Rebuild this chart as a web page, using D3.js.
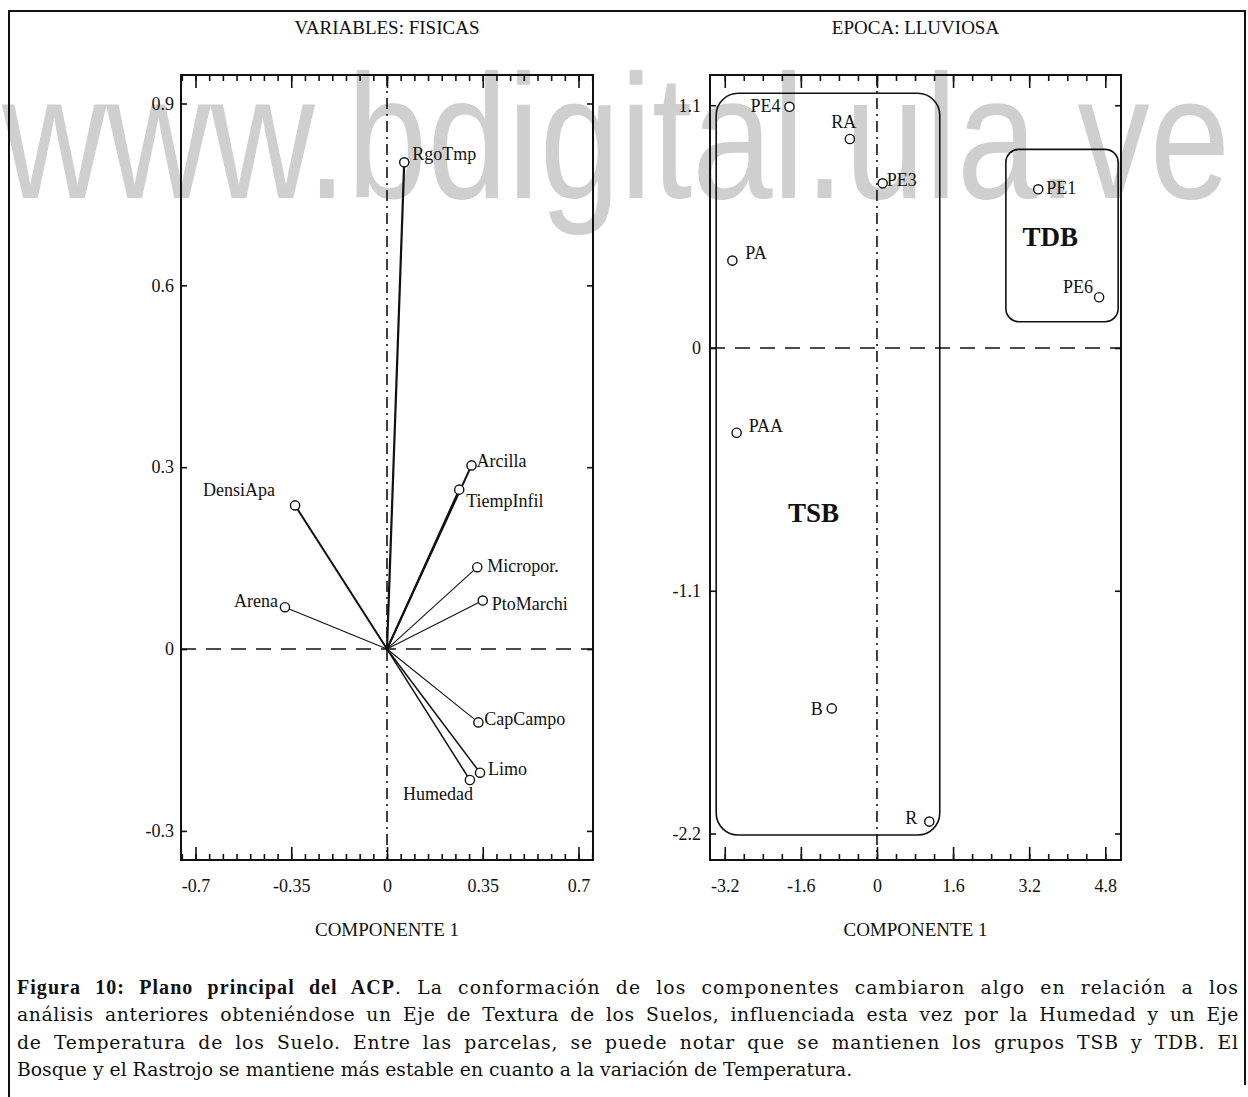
<!DOCTYPE html>
<html>
<head>
<meta charset="utf-8">
<script src="https://cdn.jsdelivr.net/npm/d3@7"></script>
<style>
  body { margin: 0; background: #fff; }
  svg { display: block; }
  text { font-family: "Liberation Serif", "Times New Roman", serif; fill: #111; }
</style>
</head>
<body>
<svg id="chart" width="1248" height="1097"></svg>
<script>
// left panel: loadings of the physical variables
var varNames = ["RgoTmp", "Arcilla", "TiempInfil", "Micropor.", "PtoMarchi", "CapCampo", "Limo", "Humedad", "DensiApa", "Arena"];
var varComp1 = [0.063, 0.309, 0.264, 0.330, 0.350, 0.334, 0.340, 0.303, -0.336, -0.373];
var varComp2 = [0.803, 0.303, 0.263, 0.135, 0.080, -0.121, -0.204, -0.216, 0.237, 0.069];

// right panel: plots in the rainy season
var plotNames = ["PE4", "RA", "PE3", "PE1", "PE6", "PA", "PAA", "B", "R"];
var plotComp1 = [-1.84, -0.57, 0.12, 3.39, 4.67, -3.04, -2.95, -0.95, 1.10];
var plotComp2 = [1.093, 0.947, 0.746, 0.719, 0.23, 0.396, -0.384, -1.633, -2.146];

// groups of plots (boxes in data units)
var groupNames = ["TSB", "TDB"];
var groupX0 = [-3.38, 2.71];
var groupX1 = [1.32, 5.07];
var groupY0 = [-2.207, 0.119];
var groupY1 = [1.154, 0.90];
var groupLabelX = [-1.334, 3.645];
var groupLabelY = [-0.787, 0.462];

var leftXTicks = [-0.7, -0.35, 0, 0.35, 0.7];
var leftYTicks = [-0.3, 0, 0.3, 0.6, 0.9];
var rightXTicks = [-3.2, -1.6, 0, 1.6, 3.2, 4.8];
var rightYTicks = [-2.2, -1.1, 0, 1.1];

var panelTitles = ["VARIABLES: FISICAS", "EPOCA: LLUVIOSA"];
var xAxisTitle = "COMPONENTE 1";

var captionBold = "Figura 10: Plano principal del ACP";
var captionLines = [
  ". La conformación de los componentes cambiaron algo en relación a los",
  "análisis anteriores obteniéndose un Eje de Textura de los Suelos, influenciada esta vez por la Humedad y un Eje",
  "de Temperatura de los Suelo. Entre las parcelas, se puede notar que se mantienen los grupos TSB y TDB. El",
  "Bosque y el Rastrojo se mantiene más estable en cuanto a la variación de Temperatura."
];
var watermark = "www.bdigital.ula.ve";

// label placement: [dx, dy, anchor]
var varLabelPos = {
  "RgoTmp": [8, -2, "start"], "Arcilla": [5, 2, "start"], "TiempInfil": [7, 17, "start"],
  "Micropor.": [10, 5, "start"], "PtoMarchi": [9, 9, "start"], "CapCampo": [6, 3, "start"],
  "Limo": [8, 2, "start"], "Humedad": [3, 20, "end"], "DensiApa": [-20, -9, "end"], "Arena": [-7, 0, "end"]
};
var plotLabelPos = {
  "PE4": [-9, 5, "end"], "RA": [-6, -11, "middle"], "PE3": [4, 3, "start"], "PE1": [8, 5, "start"],
  "PE6": [-6, -4, "end"], "PA": [13, -2, "start"], "PAA": [12, -1, "start"], "B": [-9, 7, "end"], "R": [-12, 2, "end"]
};
var heavy = {"RgoTmp": 2.2, "DensiApa": 2, "Arcilla": 2, "TiempInfil": 2, "Limo": 1.5, "Humedad": 1.5};

var svg = d3.select("#chart");
var plotTop = 75, plotBottom = 860;

// watermark sits under everything
svg.append("text")
   .attr("x", 2).attr("y", 198)
   .attr("textLength", 1228).attr("lengthAdjust", "spacingAndGlyphs")
   .style("font-family", "'Liberation Sans', Arial, sans-serif")
   .style("font-size", "176px")
   .style("fill", "#cfcfcf")
   .text(watermark);

// outer frame
svg.append("path")
   .attr("d", "M9,1097 L9,11 L1245,11 L1245,1085")
   .attr("fill", "none").attr("stroke", "#111").attr("stroke-width", 2);

var xL = d3.scaleLinear().domain([-0.753, 0.753]).range([181, 593]);
var yL = d3.scaleLinear().domain([-0.348, 0.947]).range([plotBottom, plotTop]);
var xR = d3.scaleLinear().domain([-3.51, 5.13]).range([710, 1121]);
var yR = d3.scaleLinear().domain([-2.32, 1.237]).range([plotBottom, plotTop]);

function stepsIn(domain, step) {
  var a = Math.ceil(domain[0] / step - 1e-9), b = Math.floor(domain[1] / step + 1e-9);
  return d3.range(a, b + 1).map(function(i) { return +(i * step).toFixed(4); });
}

function drawPanel(x, y, xTicks, yTicks, minorStep, yPad, title) {
  var g = svg.append("g");
  var fmt = function(d) { return String(d); };
  var x0 = x.range()[0], x1 = x.range()[1];

  // zero lines
  g.append("line")
   .attr("x1", x0).attr("x2", x1).attr("y1", y(0)).attr("y2", y(0))
   .attr("stroke", "#111").attr("stroke-width", 1.4).attr("stroke-dasharray", "15,10");
  g.append("line")
   .attr("x1", x(0)).attr("x2", x(0)).attr("y1", plotTop).attr("y2", plotBottom)
   .attr("stroke", "#111").attr("stroke-width", 1.6).attr("stroke-dasharray", "11,5,2,5");

  var minor = stepsIn(x.domain(), minorStep);
  g.append("g").attr("transform", "translate(0," + plotBottom + ")")
   .call(d3.axisBottom(x).tickValues(minor).tickSize(-6).tickFormat(""));
  g.append("g").attr("transform", "translate(0," + plotTop + ")")
   .call(d3.axisTop(x).tickValues(minor).tickSize(-6).tickFormat(""));
  g.append("g").attr("class", "lab").attr("transform", "translate(0," + plotBottom + ")")
   .call(d3.axisBottom(x).tickValues(xTicks).tickSize(-13).tickPadding(19).tickFormat(fmt));
  g.append("g").attr("transform", "translate(0," + plotTop + ")")
   .call(d3.axisTop(x).tickValues(xTicks).tickSize(-13).tickFormat(""));
  g.append("g").attr("class", "lab").attr("transform", "translate(" + x0 + ",0)")
   .call(d3.axisLeft(y).tickValues(yTicks).tickSize(-6).tickPadding(yPad).tickFormat(fmt));
  g.append("g").attr("transform", "translate(" + x1 + ",0)")
   .call(d3.axisRight(y).tickValues(yTicks).tickSize(-6).tickFormat(""));

  g.selectAll(".domain").remove();
  g.selectAll(".tick line").attr("stroke", "#111").attr("stroke-width", 1.6);
  g.selectAll(".lab text")
   .attr("font-family", null).attr("font-size", null)
   .style("font-size", "18px").style("fill", "#111");

  g.append("rect")
   .attr("x", x0).attr("y", plotTop).attr("width", x1 - x0).attr("height", plotBottom - plotTop)
   .attr("fill", "none").attr("stroke", "#111").attr("stroke-width", 2);

  var cx = (x0 + x1) / 2;
  g.append("text").attr("x", cx).attr("y", 34).attr("text-anchor", "middle")
   .style("font-size", "19px").text(title);
  g.append("text").attr("x", cx).attr("y", 936).attr("text-anchor", "middle")
   .style("font-size", "19px").text(xAxisTitle);
  return g;
}

// ---- left panel
var gL = drawPanel(xL, yL, leftXTicks, leftYTicks, 0.05, 7, panelTitles[0]);
var vars = varNames.map(function(n, i) { return {name: n, c1: varComp1[i], c2: varComp2[i]}; });

gL.selectAll("line.vec").data(vars).enter().append("line")
  .attr("class", "vec")
  .attr("x1", xL(0)).attr("y1", yL(0))
  .attr("x2", function(d) { return xL(d.c1); })
  .attr("y2", function(d) { return yL(d.c2); })
  .attr("stroke", "#111")
  .attr("stroke-width", function(d) { return heavy[d.name] || 1.1; });

gL.selectAll("circle").data(vars).enter().append("circle")
  .attr("cx", function(d) { return xL(d.c1); })
  .attr("cy", function(d) { return yL(d.c2); })
  .attr("r", 4.6).attr("fill", "#fff").attr("stroke", "#111").attr("stroke-width", 1.4);

gL.selectAll("text.vlab").data(vars).enter().append("text")
  .attr("class", "vlab")
  .attr("x", function(d) { return xL(d.c1) + varLabelPos[d.name][0]; })
  .attr("y", function(d) { return yL(d.c2) + varLabelPos[d.name][1]; })
  .attr("text-anchor", function(d) { return varLabelPos[d.name][2]; })
  .style("font-size", "18px")
  .text(function(d) { return d.name; });

// ---- right panel
var gR = drawPanel(xR, yR, rightXTicks, rightYTicks, 0.4, 9, panelTitles[1]);
var plots = plotNames.map(function(n, i) { return {name: n, c1: plotComp1[i], c2: plotComp2[i]}; });
var groups = groupNames.map(function(n, i) {
  return {name: n, x0: groupX0[i], x1: groupX1[i], y0: groupY0[i], y1: groupY1[i], lx: groupLabelX[i], ly: groupLabelY[i]};
});

gR.selectAll("rect.grp").data(groups).enter().append("rect")
  .attr("class", "grp")
  .attr("x", function(d) { return xR(d.x0); })
  .attr("y", function(d) { return yR(d.y1); })
  .attr("width", function(d) { return xR(d.x1) - xR(d.x0); })
  .attr("height", function(d) { return yR(d.y0) - yR(d.y1); })
  .attr("rx", function(d, i) { return i == 0 ? 22 : 13; })
  .attr("fill", "none").attr("stroke", "#111").attr("stroke-width", 1.6);

gR.selectAll("text.glab").data(groups).enter().append("text")
  .attr("class", "glab")
  .attr("x", function(d) { return xR(d.lx); })
  .attr("y", function(d) { return yR(d.ly); })
  .attr("text-anchor", "middle")
  .style("font-size", "27px").style("font-weight", "bold")
  .text(function(d) { return d.name; });

gR.selectAll("circle").data(plots).enter().append("circle")
  .attr("cx", function(d) { return xR(d.c1); })
  .attr("cy", function(d) { return yR(d.c2); })
  .attr("r", 4.6).attr("fill", "#fff").attr("stroke", "#111").attr("stroke-width", 1.4);

gR.selectAll("text.plab").data(plots).enter().append("text")
  .attr("class", "plab")
  .attr("x", function(d) { return xR(d.c1) + plotLabelPos[d.name][0]; })
  .attr("y", function(d) { return yR(d.c2) + plotLabelPos[d.name][1]; })
  .attr("text-anchor", function(d) { return plotLabelPos[d.name][2]; })
  .style("font-size", "18px")
  .text(function(d) { return d.name; });

// ---- caption, justified: extra room shared by word gaps and letters
var cap = svg.append("g");
var capWidth = 1221;
captionLines.forEach(function(line, i) {
  var t = cap.append("text").attr("x", 17).attr("y", 994 + i * 27.3)
             .style("font-family", "'DejaVu Serif', serif").style("font-size", "18.8px");
  var full = line;
  if (i == 0) {
    t.append("tspan")
     .style("font-family", "'Liberation Serif', serif").style("font-weight", "bold").style("font-size", "20px")
     .text(captionBold);
    full = captionBold + line;
  }
  t.append("tspan").text(line);
  if (i < 3) {
    var extra = capWidth - t.node().getComputedTextLength();
    var gaps = full.split(" ").length - 1;
    var chars = full.length - 1;
    t.style("word-spacing", (0.55 * extra / gaps) + "px")
     .style("letter-spacing", (0.45 * extra / chars) + "px");
  }
});
</script>
</body>
</html>
